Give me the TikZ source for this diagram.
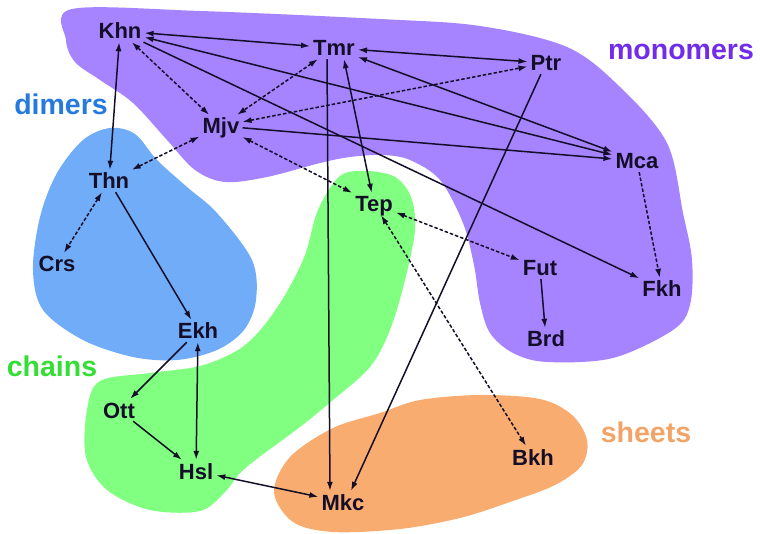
\documentclass[tikz,border=0pt]{standalone}
\usepackage{fontspec}
\setmainfont{Liberation Sans}
\usetikzlibrary{arrows.meta}
\definecolor{monoFill}{RGB}{166,131,255}
\definecolor{dimFill}{RGB}{112,172,248}
\definecolor{chainFill}{RGB}{128,255,128}
\definecolor{sheetFill}{RGB}{249,172,112}
\definecolor{monoText}{RGB}{112,44,232}
\definecolor{dimText}{RGB}{38,122,222}
\definecolor{chainText}{RGB}{52,222,52}
\definecolor{sheetText}{RGB}{242,164,104}
\definecolor{inkC}{RGB}{20,14,40}

\begin{document}
\begin{tikzpicture}
[x=1pt,y=-1pt,
mol/.style={font=\fontsize{22}{24}\selectfont\bfseries, inner sep=3pt,
text height=16pt, text depth=0pt, text=inkC},
group/.style={font=\fontsize{28.5}{30}\selectfont\bfseries, anchor=base},
blob/.style={smooth cycle, tension=0.55},
line/.style={draw=inkC, line width=1.5pt, -{Latex[length=9pt,width=6pt]}},
twoway/.style={line, {Latex[length=9pt,width=6pt]}-{Latex[length=9pt,width=6pt]}},
weak/.style={dash pattern=on 3.5pt off 2pt}]
\useasboundingbox (0,0) rectangle (760,534);
% the four groups
\fill[monoFill] plot[blob] coordinates {(72,9) (200,11) (380,19) (480,26) (567,47)
(620,87) (667,143) (683,213) (692,260) (690,305) (673,330) (613,358) (547,362)
(513,353) (490,333) (480,303) (474,265) (463,223) (440,180) (410,160) (383,155)
(350,157) (320,163) (267,177) (225,182) (195,170) (167,140) (133,103) (100,80)
(75,62) (66,40)};
\fill[dimFill] plot[blob] coordinates {(110,128) (83,140) (57,173) (40,217) (33,270)
(43,310) (83,340) (133,357) (177,360) (217,350) (244,330) (256,300) (252,260)
(217,213) (187,187) (157,160) (135,134)};
\fill[chainFill] plot[blob] coordinates {(340,176) (367,171) (395,177) (411,197)
(415,230) (405,280) (390,330) (370,367) (333,400) (300,427) (262,455) (240,473)
(225,492) (200,511) (150,510) (107,490) (86,457) (87,410) (100,381) (150,373)
(200,366) (238,350) (262,328) (285,295) (305,255) (318,210)};
\fill[sheetFill] plot[blob] coordinates {(380,413) (420,400) (480,395) (540,399)
(572,415) (587,440) (582,465) (555,485) (510,502) (460,518) (400,529) (333,532)
(293,522) (274,492) (290,457) (333,428)};

% group labels
\node[group, text=monoText]  (monolbl)  at (681,60)  {monomers};
\node[group, text=dimText]   (dimlbl)   at (61,115)  {dimers};
\node[group, text=chainText] (chainlbl) at (52,377)  {chains};
\node[group, text=sheetText] (sheetlbl) at (646,442) {sheets};

% molecules
\node[mol] (khn) at (120,31)  {Khn};
\node[mol] (tmr) at (334,48)  {Tmr};
\node[mol] (ptr) at (546,63)  {Ptr};
\node[mol] (mjv) at (221,126) {Mjv};
\node[mol] (mca) at (637,161) {Mca};
\node[mol] (thn) at (109,181) {Thn};
\node[mol] (tep) at (374,204) {Tep};
\node[mol] (crs) at (57,264)  {Crs};
\node[mol] (fut) at (540,268) {Fut};
\node[mol] (fkh) at (662,289) {Fkh};
\node[mol] (ekh) at (198,331) {Ekh};
\node[mol] (brd) at (546,339) {Brd};
\node[mol] (ott) at (119,410) {Ott};
\node[mol] (bkh) at (533,457) {Bkh};
\node[mol] (hsl) at (196,471) {Hsl};
\node[mol] (mkc) at (343,502) {Mkc};

% solid links
\path[twoway] (khn) -- (tmr);
\path[twoway] (tmr) -- (ptr);
\path[twoway] (khn) -- (mca);
\path[twoway] (tmr) -- (mca);
\path[line] (mjv) -- (mca);
\path[line] (khn) -- (fkh);
\path[twoway] (khn) -- (thn);
\path[twoway] ([xshift=10pt]tmr.south) -- (tep);
\path[line] ([xshift=-7pt]tmr.south) -- ([xshift=-13pt]mkc.north);
\path[line] (ptr) -- ([xshift=8pt]mkc.north);
\path[line] (thn) -- (ekh);
\path[line] (ekh) -- (ott);
\path[line] (ott) -- (hsl);
\path[twoway] (ekh) -- (hsl);
\path[twoway] (hsl) -- (mkc);
\path[line] (fut) -- (brd);
% dashed links
\path[twoway, weak] (khn) -- (mjv);
\path[twoway, weak] (tmr) -- (mjv);
\path[twoway, weak] (mjv) -- (ptr);
\path[twoway, weak] (mjv) -- (thn);
\path[twoway, weak] (mjv) -- (tep);
\path[twoway, weak] (thn) -- (crs);
\path[twoway, weak] (tep) -- (fut);
\path[twoway, weak] (tep) -- (bkh);
\path[line, weak] (mca) -- (fkh);
\end{tikzpicture}
\end{document}
